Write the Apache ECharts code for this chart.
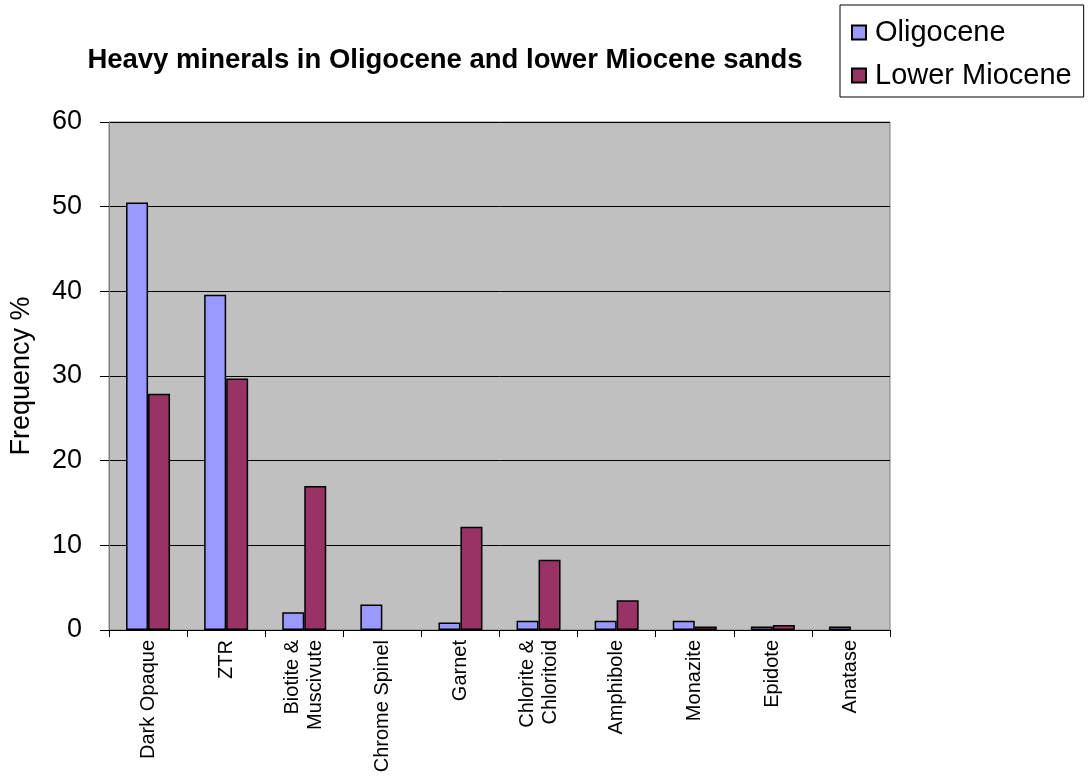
<!DOCTYPE html>
<html>
<head>
<meta charset="utf-8">
<script src="https://cdn.jsdelivr.net/npm/echarts@6/dist/echarts.min.js"></script>
<style>html,body{margin:0;padding:0;background:#fff;}#c{width:1088px;height:776px;}</style>
</head>
<body>
<div id="c"></div>
<script>
const categories = ['Dark Opaque', 'ZTR', 'Biotite &\nMuscivute', 'Chrome Spinel', 'Garnet', 'Chlorite &\nChloritoid', 'Amphibole', 'Monazite', 'Epidote', 'Anatase'];
const oligocene = [50.5, 39.6, 2.1, 3.0, 0.9, 1.1, 1.1, 1.1, 0.4, 0.4];
const lowerMiocene = [27.9, 29.7, 17.0, null, 12.2, 8.3, 3.5, 0.4, 0.6, null];
const yTicks = [0, 10, 20, 30, 40, 50, 60];

const FONT = 'Liberation Sans, Arial, sans-serif';
const chart = echarts.init(document.getElementById('c'), null, {renderer: 'canvas'});
chart.setOption({
  animation: false,
  backgroundColor: '#ffffff',
  title: {
    text: 'Heavy minerals in Oligocene and lower Miocene sands',
    left: 440, top: 41, textAlign: 'center',
    textStyle: {fontFamily: FONT, fontSize: 27.5, fontWeight: 'bold', color: '#000'}
  },
  legend: {
    orient: 'vertical', left: 840, top: 5,
    padding: [13, 12, 7, 11],
    itemGap: 14, itemWidth: 14, itemHeight: 14,
    borderColor: '#000', borderWidth: 1,
    icon: 'rect',
    textStyle: {fontFamily: FONT, fontSize: 29, color: '#000', padding: [0, 0, 0, 4]},
    data: ['Oligocene', 'Lower Miocene']
  },
  grid: {
    left: 109, right: 198, top: 122, bottom: 146,
    show: true, backgroundColor: '#C0C0C0', borderColor: '#808080', borderWidth: 1
  },
  xAxis: {
    type: 'category', data: categories,
    axisLine: {lineStyle: {color: '#000', width: 1}},
    axisTick: {show: true, length: 7, lineStyle: {color: '#000'}},
    axisLabel: {rotate: 90, margin: 10, fontFamily: FONT, fontSize: 20, color: '#000', lineHeight: 23, interval: 0}
  },
  yAxis: {
    type: 'value', min: 0, max: 60, interval: 10,
    name: 'Frequency %', nameLocation: 'middle', nameGap: 74, nameRotate: 90,
    nameTextStyle: {fontFamily: FONT, fontSize: 27, color: '#000'},
    axisLine: {show: true, lineStyle: {color: '#808080'}},
    axisTick: {show: true, length: 9, lineStyle: {color: '#000'}},
    axisLabel: {margin: 27, fontFamily: FONT, fontSize: 27, color: '#000',
      formatter: v => yTicks.includes(v) ? String(v) : ''},
    splitLine: {show: true, lineStyle: {color: '#000', width: 1}}
  },
  series: [
    {name: 'Oligocene', type: 'bar', data: oligocene, barWidth: 22, barGap: '0%',
     itemStyle: {color: '#9999FF', borderColor: '#000', borderWidth: 1.5}},
    {name: 'Lower Miocene', type: 'bar', data: lowerMiocene, barWidth: 22,
     itemStyle: {color: '#993366', borderColor: '#000', borderWidth: 1.5}}
  ]
});
</script>
</body>
</html>
